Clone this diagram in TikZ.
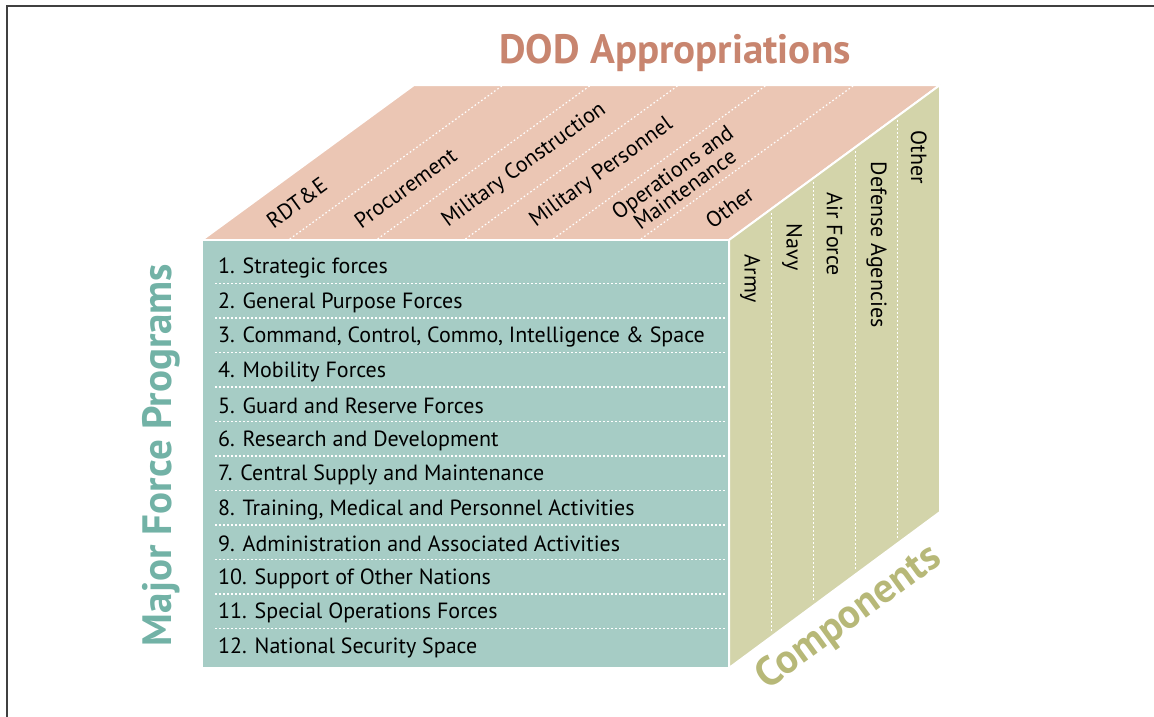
\documentclass[tikz,border=0pt]{standalone}
\usepackage{fontspec}
\setmainfont{PT Sans}

\definecolor{topface}{HTML}{EBC6B4}
\definecolor{frontface}{HTML}{A6CCC5}
\definecolor{sideface}{HTML}{D3D4AA}
\definecolor{toptitle}{HTML}{C8856F}
\definecolor{fronttitle}{HTML}{72B2A6}
\definecolor{sidetitle}{HTML}{B7B878}

\begin{document}
\begin{tikzpicture}[x=1pt,y=-1pt,
    face/.style={draw=white,line width=2pt,line join=round},
    divider/.style={white,line width=1.2pt,dash pattern=on 1.6pt off 2.4pt},
    lbl/.style={font=\fontsize{22}{21}\selectfont,inner sep=0pt},
    heading/.style={font=\fontsize{41}{41}\selectfont\bfseries,inner sep=0pt}]
    \useasboundingbox (0,0) rectangle (1154,717);
    \draw[black!75,line width=1.2pt] (7,717) -- (7,6) -- (1154,6);

    % the three faces of the cube
    \coordinate (A) at (202,240);
    \coordinate (B) at (729,240);
    \coordinate (C) at (729,668);
    \coordinate (D) at (202,668);
    \coordinate (E) at (414,85);
    \coordinate (F) at (940,85);
    \coordinate (G) at (940,512);
    \filldraw[face,fill=topface] (A) -- (E) -- (F) -- (B) -- cycle;
    \filldraw[face,fill=sideface] (B) -- (F) -- (G) -- (C) -- cycle;
    \filldraw[face,fill=frontface] (A) -- (B) -- (C) -- (D) -- cycle;

    \foreach \k in {1,...,5}
    \draw[divider] (202+\k*87.8,239) -- (414+\k*87.8,86);
    \foreach \k in {1,...,4}
    \draw[divider] (729+\k*42.2,240-\k*31 +4) -- (729+\k*42.2,668-\k*31 -6);
    \foreach \i in {1,...,11}
    \draw[divider] (215,249+34.5*\i) -- (725,249+34.5*\i);

    % appropriations on top
    \foreach \k/\name in {0/RDT\&E,1/Procurement,2/Military Construction,3/Military Personnel,
      4/{Operations and\\Maintenance},5/Other}
    \node[lbl,rotate=36,anchor=west,align=center] (approp\k) at (202+\k*87.8+67,223) {\name};

    % components on the side
    \foreach \k/\name in {0/Army,1/Navy,2/Air Force,3/Defense Agencies,4/Other}
    \node[lbl,rotate=-90,anchor=west] (comp\k) at (750.1+\k*42.2,240-\k*31-15.5+30) {\name};

    % programs on the front
    \foreach \i/\name in {1/1. Strategic forces,2/2. General Purpose Forces,
      3/{3. Command, Control, Commo, Intelligence \& Space},4/4. Mobility Forces,
      5/5. Guard and Reserve Forces,6/6. Research and Development,
      7/7. Central Supply and Maintenance,8/{8. Training, Medical and Personnel Activities},
      9/9. Administration and Associated Activities,10/10. Support of Other Nations,
      11/11. Special Operations Forces,12/12. National Security Space}
    \node[lbl,anchor=west] (prog\i) at (218,268+34.5*\i-34.5) {\name};

    \node[heading,text=toptitle] (approp) at (675,53) {DOD Appropriations};
    \node[heading,text=fronttitle,rotate=90] (programs) at (161,455) {Major Force Programs};
    \node[heading,text=sidetitle,rotate=36] (components) at (849,618) {Components};
\end{tikzpicture}
\end{document}
